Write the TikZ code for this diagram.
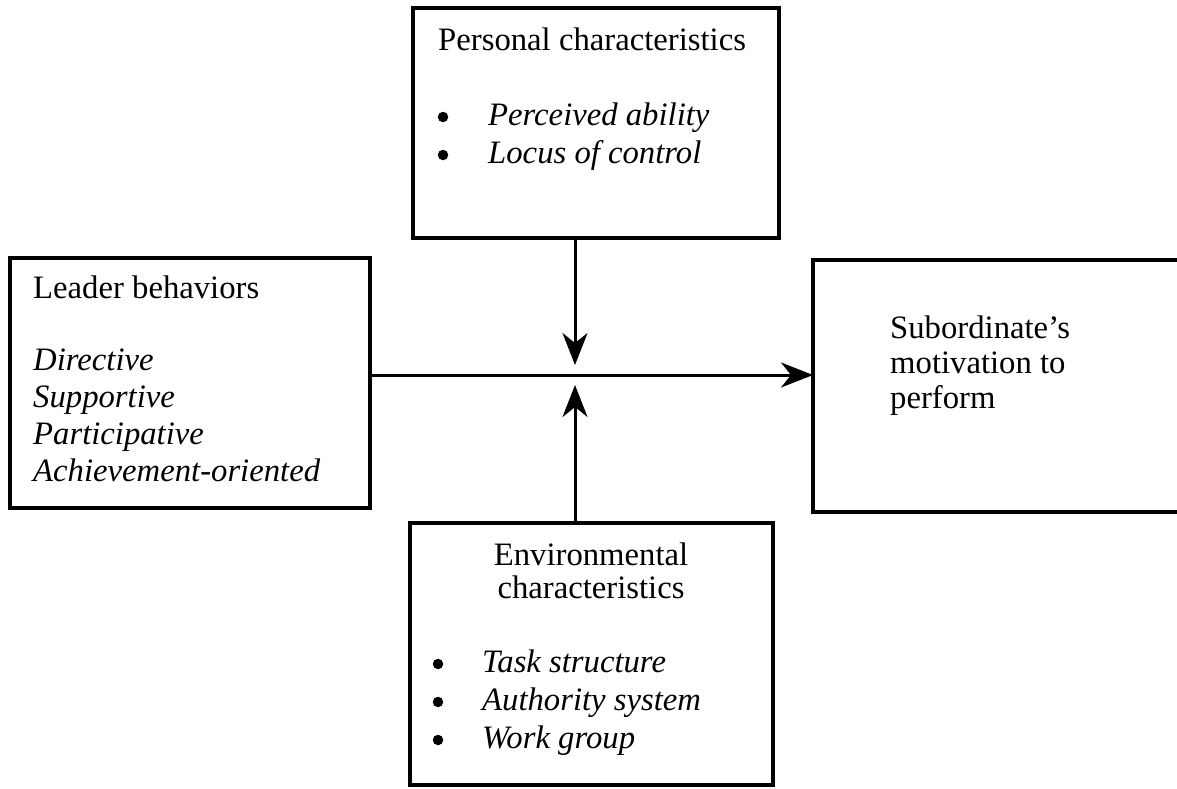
\documentclass[tikz,border=0pt]{standalone}
\usepackage{fontspec}
\setmainfont{Liberation Serif}
\usetikzlibrary{arrows.meta}
\begin{document}
\begin{tikzpicture}[x=1pt,y=-1pt,
  box/.style={draw=black, line width=3.5pt, rectangle, inner sep=0pt, outer sep=0pt, anchor=north west},
  txt/.style={anchor=base west, inner sep=0pt, font=\fontsize{32.7}{38}\selectfont},
  itl/.style={txt, font=\fontsize{32.7}{38}\selectfont\itshape},
  ctr/.style={txt, anchor=base},
  dot/.style={circle, fill=black, inner sep=0pt, minimum size=10.5pt},
  arr/.style={draw=black, line width=3pt, -{Stealth[length=32pt,width=25pt,inset=10pt]}}]
\useasboundingbox (0,0) rectangle (1177,788);

% boxes
\node[box, minimum width=366pt, minimum height=230pt] (pers) at (413,8) {};
\node[box, minimum width=360pt, minimum height=250pt] (lead) at (10,258) {};
\node[box, minimum width=380pt, minimum height=252pt] (sub) at (813,260) {};
\node[box, minimum width=363pt, minimum height=262pt] (env) at (410,523) {};

% personal characteristics
\node[txt] (pt) at (438,50) {Personal characteristics};
\node[dot] (pb1) at (443,117) {};
\node[itl] (pi1) at (488,125) {Perceived ability};
\node[dot] (pb2) at (443,155) {};
\node[itl] (pi2) at (488,163) {Locus of control};

% leader behaviors
\node[txt] (lt) at (33,298) {Leader behaviors};
\node[itl] (li1) at (33,370) {Directive};
\node[itl] (li2) at (33,407) {Supportive};
\node[itl] (li3) at (33,444) {Participative};
\node[itl] (li4) at (33,481) {Achievement-oriented};

% outcome
\node[txt] (s1) at (890,338) {Subordinate’s};
\node[txt] (s2) at (890,373) {motivation to};
\node[txt] (s3) at (890,408) {perform};

% environmental characteristics
\node[ctr] (et1) at (591,565) {Environmental};
\node[ctr] (et2) at (591,598) {characteristics};
\node[dot] (eb1) at (438,664) {};
\node[itl] (ei1) at (482,672) {Task structure};
\node[dot] (eb2) at (438,702) {};
\node[itl] (ei2) at (482,710) {Authority system};
\node[dot] (eb3) at (438,740) {};
\node[itl] (ei3) at (482,748) {Work group};

% connectors
\coordinate (meet) at (575,375);
\coordinate (toptip) at (575,365);
\coordinate (bottip) at (575,385);
\draw[arr] (pers.south -| meet) -- (toptip);
\draw[arr] (env.north -| meet) -- (bottip);
\draw[arr] (lead.east |- meet) -- (sub.west |- meet);
\end{tikzpicture}
\end{document}
